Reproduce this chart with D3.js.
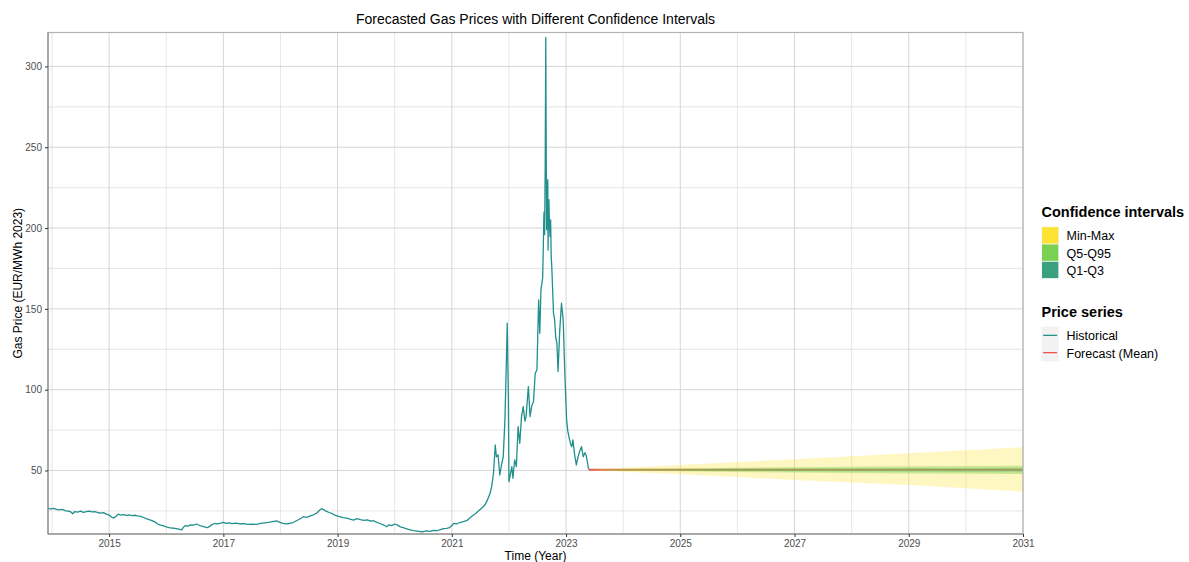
<!DOCTYPE html>
<html>
<head>
<meta charset="utf-8">
<script src="https://cdn.jsdelivr.net/npm/d3@7"></script>
<style>
  html, body { margin: 0; padding: 0; background: #fff; }
  svg { display: block; font-family: "Liberation Sans", Arial, Helvetica, sans-serif; }
</style>
</head>
<body>
<svg id="chart" width="1189" height="562"></svg>
<script>
// Historical gas price (decimal year, EUR/MWh in 2023 terms)
const histYears = [
  2013.93, 2013.98, 2014.03, 2014.08, 2014.13, 2014.18, 2014.23, 2014.28, 2014.33, 2014.36,
  2014.40, 2014.45, 2014.50, 2014.55, 2014.60, 2014.65, 2014.70, 2014.75, 2014.80, 2014.85,
  2014.90, 2014.95, 2015.00, 2015.04, 2015.08, 2015.12, 2015.16, 2015.20, 2015.25, 2015.30,
  2015.35, 2015.40, 2015.45, 2015.50, 2015.55, 2015.60, 2015.65, 2015.70, 2015.75, 2015.80,
  2015.85, 2015.90, 2015.95, 2016.00, 2016.05, 2016.10, 2016.15, 2016.20, 2016.27, 2016.30,
  2016.33, 2016.38, 2016.43, 2016.48, 2016.53, 2016.58, 2016.63, 2016.68, 2016.72, 2016.76,
  2016.80, 2016.85, 2016.90, 2016.95, 2017.00, 2017.05, 2017.10, 2017.15, 2017.22, 2017.29,
  2017.36, 2017.43, 2017.50, 2017.58, 2017.65, 2017.72, 2017.79, 2017.86, 2017.93, 2017.98,
  2018.04, 2018.10, 2018.16, 2018.22, 2018.28, 2018.34, 2018.40, 2018.46, 2018.52, 2018.58,
  2018.64, 2018.68, 2018.72, 2018.76, 2018.80, 2018.85, 2018.90, 2018.95, 2019.00, 2019.05,
  2019.10, 2019.16, 2019.22, 2019.28, 2019.34, 2019.40, 2019.46, 2019.52, 2019.58, 2019.63,
  2019.68, 2019.74, 2019.80, 2019.86, 2019.90, 2019.95, 2020.00, 2020.05, 2020.10, 2020.15,
  2020.21, 2020.27, 2020.33, 2020.40, 2020.45, 2020.50, 2020.56, 2020.62, 2020.68, 2020.74,
  2020.79, 2020.85, 2020.91, 2020.96, 2021.00, 2021.03, 2021.08, 2021.14, 2021.20, 2021.26,
  2021.30, 2021.34, 2021.38, 2021.42, 2021.46, 2021.50, 2021.54, 2021.58, 2021.62, 2021.67,
  2021.70, 2021.73, 2021.76, 2021.78, 2021.81, 2021.84, 2021.87, 2021.90, 2021.93, 2021.95,
  2021.97, 2021.98, 2021.99, 2022.00, 2022.03, 2022.05, 2022.07, 2022.10, 2022.13, 2022.16,
  2022.19, 2022.22, 2022.25, 2022.28, 2022.30, 2022.34, 2022.37, 2022.40, 2022.43, 2022.46,
  2022.49, 2022.52, 2022.54, 2022.56, 2022.59, 2022.60, 2022.61, 2022.615, 2022.625, 2022.635,
  2022.645, 2022.65, 2022.655, 2022.66, 2022.665, 2022.67, 2022.68, 2022.685, 2022.69, 2022.70,
  2022.71, 2022.72, 2022.73, 2022.74, 2022.75, 2022.78, 2022.80, 2022.82, 2022.84, 2022.86,
  2022.89, 2022.92, 2022.95, 2022.98, 2023.01, 2023.03, 2023.05, 2023.08, 2023.10, 2023.12,
  2023.15, 2023.18, 2023.21, 2023.24, 2023.27, 2023.30, 2023.33, 2023.35, 2023.37, 2023.39,
  2023.40
];
const histPrices = [
  26.6, 26.3, 26.5, 26.0, 25.6, 25.9, 25.2, 24.9, 24.4, 23.2,
  24.6, 24.3, 24.8, 24.1, 24.5, 24.9, 24.4, 24.6, 24.0, 23.6,
  23.9, 23.0, 22.4, 21.2, 20.7, 21.5, 23.0, 22.4, 22.7, 22.2,
  22.5, 22.1, 22.3, 21.9, 21.6, 20.9, 20.2, 19.6, 19.0, 18.2,
  16.9, 16.2, 15.8, 15.1, 14.7, 14.4, 14.2, 13.8, 13.2, 14.8,
  15.9, 15.6, 16.4, 16.2, 16.9, 16.1, 15.5, 15.0, 14.6, 15.4,
  16.5, 17.2, 17.0, 17.4, 17.9, 17.3, 17.6, 17.1, 17.4, 16.9,
  17.1, 16.6, 16.8, 16.7, 17.3, 17.6, 17.9, 18.4, 18.8, 18.1,
  17.3, 16.9, 17.2, 17.8, 18.9, 20.0, 21.4, 21.0, 21.9, 22.6,
  23.8, 25.2, 26.4, 25.6, 24.8, 24.0, 23.4, 22.4, 21.8, 21.3,
  20.8, 20.5, 19.9, 19.3, 20.2, 19.6, 19.1, 19.5, 18.7, 18.9,
  18.0, 17.2, 16.4, 15.2, 16.4, 15.9, 16.9, 16.2, 15.1, 14.6,
  13.9, 13.2, 12.8, 12.5, 12.2, 12.1, 12.6, 12.3, 13.0, 12.8,
  13.2, 14.0, 14.2, 14.7, 15.8, 17.3, 16.9, 17.8, 18.3, 18.9,
  20.1, 21.3, 22.5, 23.4, 24.8, 26.0, 27.2, 28.6, 31.5, 35.9,
  40.5, 48.3, 65.8, 58.5, 59.6, 47.2, 53.4, 58.5, 81.3, 110.0,
  141.1, 118.0, 95.7, 43.1, 48.5, 52.4, 45.2, 56.5, 52.4, 77.1,
  66.8, 83.3, 89.5, 80.5, 83.3, 101.9, 83.3, 90.1, 92.6, 110.2,
  112.2, 155.5, 134.9, 161.7, 169.0, 185.0, 205.0, 210.0, 196.0, 240.0,
  318.0, 270.0, 230.0, 199.0, 228.0, 210.0, 230.0, 186.4, 205.0, 217.6,
  200.0, 194.7, 205.0, 182.0, 176.2, 147.3, 143.2, 132.0, 128.7, 111.2,
  137.0, 153.5, 143.2, 108.1, 81.3, 74.5, 70.9, 66.2, 64.7, 68.9,
  59.8, 53.4, 58.5, 62.1, 64.7, 58.5, 61.0, 59.6, 56.0, 51.4,
  50.6
];

// Forecast horizon with mean and interval bounds
const fcYears   = [2023.40, 2024, 2025, 2026, 2027, 2028, 2029, 2030, 2031];
const fcMean    = [50.4, 50.4, 50.4, 50.4, 50.4, 50.4, 50.4, 50.4, 50.4];
const fcMin     = [50.4, 49.2, 47.6, 45.9, 44.1, 42.6, 41.0, 39.0, 36.9];
const fcMax     = [50.4, 51.7, 53.4, 55.2, 57.0, 58.8, 60.6, 62.5, 64.4];
const fcQ5      = [50.4, 49.9, 49.5, 49.1, 48.8, 48.5, 48.2, 48.0, 47.8];
const fcQ95     = [50.4, 50.9, 51.3, 51.7, 52.0, 52.3, 52.6, 52.8, 53.0];
const fcQ1      = [50.4, 50.2, 50.0, 49.7, 49.5, 49.4, 49.2, 49.0, 48.9];
const fcQ3      = [50.4, 50.6, 50.8, 51.0, 51.2, 51.3, 51.5, 51.6, 51.7];

// Axis ticks
const xMajorTicks = [2015, 2017, 2019, 2021, 2023, 2025, 2027, 2029, 2031];
const xMinorTicks = [2014, 2016, 2018, 2020, 2022, 2024, 2026, 2028, 2030];
const yMajorTicks = [50, 100, 150, 200, 250, 300];
const yMinorTicks = [25, 75, 125, 175, 225, 275];

// Legend entries
const ciLabels = ["Min-Max", "Q5-Q95", "Q1-Q3"];
const ciColors = ["#FDE333", "#7AD151", "#3AA17E"];
const seriesLabels = ["Historical", "Forecast (Mean)"];
const seriesColors = ["#21908C", "#F0504A"];

const svg = d3.select("#chart");
const panel = { left: 48, right: 1023, top: 32.5, bottom: 534 };

const x = d3.scaleLinear().domain([2013.93, 2031]).range([panel.left, panel.right]);
const y = d3.scaleLinear().domain([10.7, 321]).range([panel.bottom, panel.top]);

svg.append("defs").append("clipPath").attr("id", "panel-clip")
  .append("rect")
  .attr("x", panel.left).attr("y", panel.top)
  .attr("width", panel.right - panel.left).attr("height", panel.bottom - panel.top);

// Grid
const grid = svg.append("g");
grid.selectAll(".ymin").data(yMinorTicks).join("line")
  .attr("x1", panel.left).attr("x2", panel.right)
  .attr("y1", d => y(d)).attr("y2", d => y(d))
  .attr("stroke", "#e0e0e0").attr("stroke-width", 0.8);
grid.selectAll(".xmin").data(xMinorTicks).join("line")
  .attr("y1", panel.top).attr("y2", panel.bottom)
  .attr("x1", d => x(d)).attr("x2", d => x(d))
  .attr("stroke", "#e0e0e0").attr("stroke-width", 0.8);
grid.selectAll(".ymaj").data(yMajorTicks).join("line")
  .attr("x1", panel.left).attr("x2", panel.right)
  .attr("y1", d => y(d)).attr("y2", d => y(d))
  .attr("stroke", "#d6d6d6").attr("stroke-width", 1);
grid.selectAll(".xmaj").data(xMajorTicks).join("line")
  .attr("y1", panel.top).attr("y2", panel.bottom)
  .attr("x1", d => x(d)).attr("x2", d => x(d))
  .attr("stroke", "#d6d6d6").attr("stroke-width", 1);

const plot = svg.append("g").attr("clip-path", "url(#panel-clip)");

// Historical line
const hist = histYears.map((t, i) => ({ t, v: histPrices[i] }));
plot.append("path")
  .datum(hist)
  .attr("fill", "none")
  .attr("stroke", seriesColors[0])
  .attr("stroke-width", 1.3)
  .attr("stroke-linejoin", "round")
  .attr("d", d3.line().x(d => x(d.t)).y(d => y(d.v)));

// Forecast mean line (drawn beneath the interval ribbons)
const fc = fcYears.map((t, i) => ({
  t, mean: fcMean[i], min: fcMin[i], max: fcMax[i],
  q5: fcQ5[i], q95: fcQ95[i], q1: fcQ1[i], q3: fcQ3[i]
}));
plot.append("path")
  .datum(fc)
  .attr("fill", "none")
  .attr("stroke", seriesColors[1])
  .attr("stroke-width", 2)
  .attr("d", d3.line().x(d => x(d.t)).y(d => y(d.mean)));

// Interval ribbons
const ribbons = [
  { lo: "min", hi: "max", color: ciColors[0], op: 0.3 },
  { lo: "q5", hi: "q95", color: ciColors[1], op: 0.4 },
  { lo: "q1", hi: "q3", color: ciColors[2], op: 0.25 }
];
ribbons.forEach(r => {
  plot.append("path")
    .datum(fc)
    .attr("fill", r.color)
    .attr("fill-opacity", r.op)
    .attr("d", d3.area().x(d => x(d.t)).y0(d => y(d[r.lo])).y1(d => y(d[r.hi])));
});

// Panel border
svg.append("rect")
  .attr("x", panel.left).attr("y", panel.top)
  .attr("width", panel.right - panel.left).attr("height", panel.bottom - panel.top)
  .attr("fill", "none").attr("stroke", "#b3b3b3").attr("stroke-width", 1.2);
svg.append("path")
  .attr("d", `M${panel.left},${panel.top}V${panel.bottom}H${panel.right}`)
  .attr("fill", "none").attr("stroke", "#7f7f7f").attr("stroke-width", 1);

// Axes
const xAxis = d3.axisBottom(x).tickValues(xMajorTicks).tickFormat(d3.format("d"))
  .tickSize(3).tickPadding(3);
const gx = svg.append("g").attr("transform", `translate(0,${panel.bottom})`).call(xAxis);
gx.select(".domain").remove();
gx.selectAll(".tick line").attr("stroke", "#333");
gx.selectAll(".tick text").attr("fill", "#4d4d4d").attr("font-size", 10)
  .attr("font-family", "Liberation Sans, Arial, sans-serif");

const yAxis = d3.axisLeft(y).tickValues(yMajorTicks).tickSize(3).tickPadding(3);
const gy = svg.append("g").attr("transform", `translate(${panel.left},0)`).call(yAxis);
gy.select(".domain").remove();
gy.selectAll(".tick line").attr("stroke", "#333");
gy.selectAll(".tick text").attr("fill", "#4d4d4d").attr("font-size", 10)
  .attr("font-family", "Liberation Sans, Arial, sans-serif");

// Titles
svg.append("text")
  .attr("x", (panel.left + panel.right) / 2).attr("y", 24)
  .attr("text-anchor", "middle").attr("font-size", 14).attr("fill", "#000")
  .text("Forecasted Gas Prices with Different Confidence Intervals");
svg.append("text")
  .attr("x", (panel.left + panel.right) / 2).attr("y", 560)
  .attr("text-anchor", "middle").attr("font-size", 12).attr("fill", "#000")
  .text("Time (Year)");
svg.append("text")
  .attr("transform", `translate(21.5,${(panel.top + panel.bottom) / 2}) rotate(-90)`)
  .attr("text-anchor", "middle").attr("font-size", 12).attr("fill", "#000")
  .text("Gas Price (EUR/MWh 2023)");

// Legend: confidence intervals
const lg = svg.append("g");
const keyX = 1041.5, keyW = 17.3;
lg.append("text").attr("x", keyX).attr("y", 217)
  .attr("font-size", 14.5).attr("font-weight", "bold").text("Confidence intervals");
ciLabels.forEach((lab, i) => {
  const ky = 226.7 + i * keyW;
  lg.append("rect").attr("x", keyX).attr("y", ky).attr("width", keyW).attr("height", keyW)
    .attr("fill", "#f2f2f2");
  lg.append("rect").attr("x", keyX + 0.5).attr("y", ky + 0.5).attr("width", keyW - 1).attr("height", keyW - 1)
    .attr("fill", ciColors[i]);
  lg.append("text").attr("x", 1066.5).attr("y", ky + keyW / 2 + 5)
    .attr("font-size", 12.5).attr("fill", "#000").text(lab);
});

// Legend: price series
lg.append("text").attr("x", keyX).attr("y", 317)
  .attr("font-size", 14.5).attr("font-weight", "bold").text("Price series");
seriesLabels.forEach((lab, i) => {
  const ky = 326.7 + i * keyW;
  lg.append("rect").attr("x", keyX).attr("y", ky).attr("width", keyW).attr("height", keyW)
    .attr("fill", "#f2f2f2");
  lg.append("line").attr("x1", keyX + 1.7).attr("x2", keyX + keyW - 1.7)
    .attr("y1", ky + keyW / 2).attr("y2", ky + keyW / 2)
    .attr("stroke", seriesColors[i]).attr("stroke-width", 1.3);
  lg.append("text").attr("x", 1066.5).attr("y", ky + keyW / 2 + 5)
    .attr("font-size", 12.5).attr("fill", "#000").text(lab);
});
</script>
</body>
</html>
